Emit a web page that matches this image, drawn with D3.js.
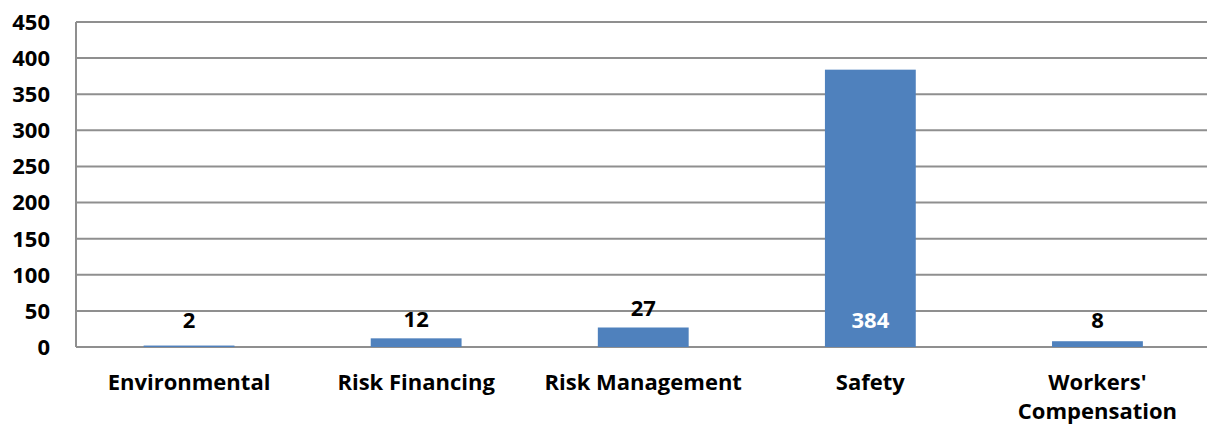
<!DOCTYPE html>
<html>
<head>
<meta charset="utf-8">
<script src="https://cdn.jsdelivr.net/npm/d3@7"></script>
<style>
  body { margin: 0; background: #fff; }
  svg { display: block; }
  text { font-family: "Open Sans", "Liberation Sans", sans-serif; font-weight: 700; }
</style>
</head>
<body>
<svg id="chart" width="1207" height="427"></svg>
<script>
const categories = ["Environmental", "Risk Financing", "Risk Management", "Safety", "Workers' Compensation"];
const values = [2, 12, 27, 384, 8];
const yTicks = [0, 50, 100, 150, 200, 250, 300, 350, 400, 450];

const width = 1207, height = 427;
const margin = { left: 76, top: 22, bottom: 80 };
const plotRight = 1211;
const y0 = 347;

const svg = d3.select('#chart');

const x = d3.scaleBand()
  .domain(categories)
  .range([75.5, plotRight])
  .paddingInner(0.6)
  .paddingOuter(0.3);

const y = d3.scaleLinear()
  .domain([0, 450])
  .range([y0, margin.top]);

// gridlines
svg.append('g')
  .selectAll('line')
  .data(yTicks)
  .join('line')
  .attr('x1', margin.left)
  .attr('x2', width)
  .attr('y1', d => y(d))
  .attr('y2', d => y(d))
  .attr('stroke', '#8f8f8f')
  .attr('stroke-width', 2);

// y axis line
svg.append('line')
  .attr('x1', margin.left).attr('x2', margin.left)
  .attr('y1', y(450)).attr('y2', y0)
  .attr('stroke', '#8f8f8f')
  .attr('stroke-width', 2);

// y tick labels
svg.append('g')
  .selectAll('text')
  .data(yTicks)
  .join('text')
  .attr('x', 50)
  .attr('y', d => y(d))
  .attr('dy', '0.36em')
  .attr('text-anchor', 'end')
  .attr('font-size', 22)
  .attr('fill', '#000')
  .text(d => d);

// bars
svg.append('g')
  .selectAll('rect')
  .data(values)
  .join('rect')
  .attr('x', (d, i) => x(categories[i]))
  .attr('width', x.bandwidth())
  .attr('y', d => y(d))
  .attr('height', d => y0 - y(d))
  .attr('fill', '#4f81bd');

// value labels: inside base, pushed above short bars
const fitsInside = d => y0 - y(d) > 45;
svg.append('g')
  .selectAll('text')
  .data(values)
  .join('text')
  .attr('x', (d, i) => x(categories[i]) + x.bandwidth() / 2)
  .attr('y', d => fitsInside(d) ? y0 - 27 : Math.min(y0 - 27, y(d) - 19.5))
  .attr('dy', '0.36em')
  .attr('text-anchor', 'middle')
  .attr('font-size', 22)
  .attr('fill', d => fitsInside(d) ? '#fff' : '#000')
  .text(d => d);

// category labels
const labelLines = {
  "Workers' Compensation": ["Workers'", "Compensation"]
};
const catG = svg.append('g');
categories.forEach(c => {
  const lines = labelLines[c] || [c];
  const t = catG.append('text')
    .attr('x', x(c) + x.bandwidth() / 2)
    .attr('y', 382)
    .attr('text-anchor', 'middle')
    .attr('font-size', 22)
    .attr('fill', '#000');
  lines.forEach((l, i) => {
    t.append('tspan')
      .attr('x', x(c) + x.bandwidth() / 2)
      .attr('dy', i === 0 ? '0.36em' : 29)
      .text(l);
  });
});
</script>
</body>
</html>
